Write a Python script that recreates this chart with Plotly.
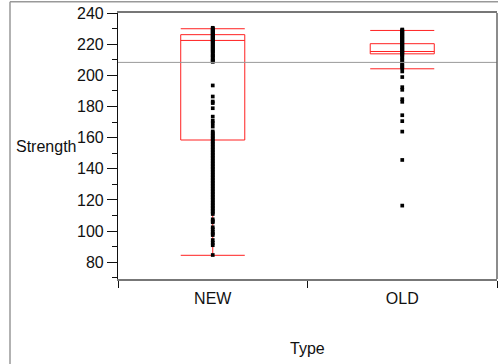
import plotly.graph_objects as go

# ---- data ----
categories = ["NEW", "OLD"]

new_strength = [
    230.5, 230, 229.5, 229, 228.5, 228, 227.5, 227, 226.5, 226, 225.5, 225,
    224.5, 224, 223.5, 223, 222.5, 222, 221.5, 221, 220, 219.5, 219, 218,
    217.5, 217, 216, 215.5, 215, 214, 213, 212.5, 212, 211, 210, 209.5, 209,
    208.7,
    193.5, 186.4, 183.2, 182.2, 178.9, 173.5, 170.8, 169.3, 167.1,
    164, 163, 162, 161, 160, 159, 158, 157, 156, 155, 154, 153, 152, 151,
    150, 149, 148, 147, 146, 145, 144, 143, 142, 141, 140, 139, 138, 137,
    136, 135, 134, 133, 132, 131, 130, 129, 128, 127, 126, 125, 124, 123,
    122, 121, 120, 119, 118, 117, 116, 115, 114, 113, 112, 111,
    107.6, 106.5, 105.7, 102.5, 101.2, 99.6, 98.5, 97.5, 94.3, 92.5, 91,
    84.7,
]

old_strength = [
    229.4, 229, 228.5, 228, 227.5, 227, 226.5, 226, 225.5, 225, 224.5, 224,
    223.5, 223, 222.5, 222, 221.5, 221, 220.5, 220, 219.5, 219, 218.5, 218,
    217.5, 217, 216.5, 216, 215.5, 215, 214.5, 214, 213.5, 213, 212, 211,
    210, 209, 208, 207, 206, 205.2, 204.5,
    202.5, 198.9, 192.4, 190.7, 184.7, 183.0, 174.4, 170.6, 163.9, 145.7,
    116.4,
]

# box statistics
box_q1 = [158.5, 213.8]
box_median = [222.4, 215.3]
box_q3 = [226.1, 220.3]
box_lower = [84.5, 204.2]
box_upper = [229.9, 228.8]

grand_mean = 208.3

y_range = [69.3, 240]
y_major = [80, 100, 120, 140, 160, 180, 200, 220, 240]

# ---- layout constants ----
W, H = 498, 364
ML, MR, MT, MB = 118, 1, 13, 85
PW = W - ML - MR
PH = H - MT - MB
FONT = "Liberation Sans, Arial, sans-serif"
FS = 16

fig = go.Figure()

fig.add_trace(go.Box(
    x=categories,
    q1=box_q1, median=box_median, q3=box_q3,
    lowerfence=box_lower, upperfence=box_upper,
    boxpoints=False,
    width=0.338,
    whiskerwidth=1,
    line=dict(color="#ff2020", width=1),
    fillcolor="rgba(0,0,0,0)",
    showlegend=False,
    hoverinfo="skip",
))

fig.add_trace(go.Scatter(
    x=["NEW"] * len(new_strength) + ["OLD"] * len(old_strength),
    y=new_strength + old_strength,
    mode="markers",
    marker=dict(symbol="square", size=3.7, color="black", line=dict(width=0)),
    showlegend=False,
))

shapes = [
    # grand mean line
    dict(type="line", xref="paper", yref="y", x0=0, x1=1,
         y0=grand_mean, y1=grand_mean, line=dict(color="#9a9a9a", width=1)),
    # right border of plot
    dict(type="line", xref="paper", yref="paper", x0=1, x1=1, y0=0, y1=1,
         line=dict(color="#666666", width=1.5)),
    # outer frame: left and top
    dict(type="line", xref="paper", yref="paper",
         x0=(10 - ML) / PW, x1=(10 - ML) / PW,
         y0=(PH + MT - H) / PH, y1=(PH + MT - 1.7) / PH,
         line=dict(color="#999999", width=1.5)),
    dict(type="line", xref="paper", yref="paper",
         x0=(10 - ML) / PW, x1=1.01,
         y0=(PH + MT - 1.7) / PH, y1=(PH + MT - 1.7) / PH,
         line=dict(color="#999999", width=1.5)),
]

fig.update_layout(
    width=W, height=H,
    margin=dict(l=ML, r=MR, t=MT, b=MB),
    paper_bgcolor="white", plot_bgcolor="white",
    font=dict(family=FONT, size=FS, color="#111111"),
    shapes=shapes,
    annotations=[
        dict(text="Strength", xref="paper", yref="paper", x=0, y=0.5,
             xanchor="right", yanchor="middle", xshift=-40, showarrow=False,
             font=dict(family=FONT, size=FS, color="#111111")),
        dict(text="Type", xref="paper", yref="paper", x=0.5, y=0,
             xanchor="center", yanchor="middle", yshift=-69, showarrow=False,
             font=dict(family=FONT, size=FS, color="#111111")),
    ],
)

fig.update_xaxes(
    type="category", categoryorder="array", categoryarray=categories,
    range=[-0.5, 1.5],
    showline=True, linecolor="#777777", linewidth=1.5, mirror=True,
    ticks="outside", tickson="boundaries", ticklen=7, tickcolor="#111111",
    ticklabelstandoff=4,
    showgrid=False, zeroline=False,
    tickfont=dict(family=FONT, size=FS, color="#111111"),
)

fig.update_yaxes(
    range=y_range, tickvals=y_major,
    showline=True, linecolor="#111111", linewidth=1.2,
    ticks="outside", ticklen=10, tickcolor="#111111",
    minor=dict(ticks="outside", ticklen=5, dtick=10, tick0=0, tickcolor="#111111"),
    showgrid=False, zeroline=False,
    tickfont=dict(family=FONT, size=FS, color="#111111"),
)

fig.write_html(
    "out.html",
    config={"displayModeBar": False},
    post_script="document.body.style.margin='0';document.body.style.overflow='hidden';",
)
